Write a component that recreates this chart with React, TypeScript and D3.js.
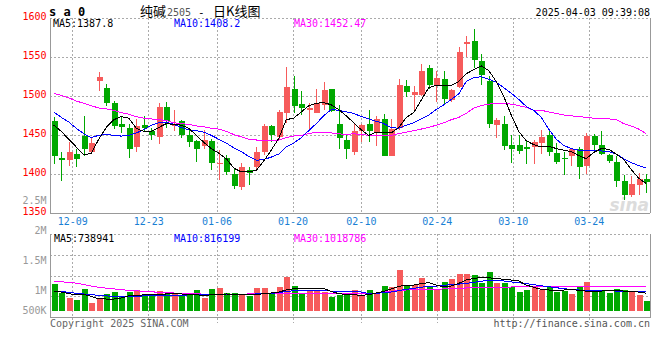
import React from 'react';
import * as d3 from 'd3';

// 交易日
const dates = [
  '12-04', '12-05', '12-06', '12-09', '12-10', '12-11', '12-12', '12-13', '12-16', '12-17',
  '12-18', '12-19', '12-20', '12-23', '12-24', '12-25', '12-26', '12-27', '12-30', '12-31',
  '01-02', '01-03', '01-06', '01-07', '01-08', '01-09', '01-10', '01-13', '01-14', '01-15',
  '01-16', '01-17', '01-20', '01-21', '01-22', '01-23', '01-24', '01-27', '02-05', '02-06',
  '02-07', '02-10', '02-11', '02-12', '02-13', '02-14', '02-17', '02-18', '02-19', '02-20',
  '02-21', '02-24', '02-25', '02-26', '02-27', '02-28', '03-03', '03-04', '03-05', '03-06',
  '03-07', '03-10', '03-11', '03-12', '03-13', '03-14', '03-17', '03-18', '03-19', '03-20',
  '03-21', '03-24', '03-25', '03-26', '03-27', '03-28', '03-31', '04-01', '04-02', '04-03',
];

const opens = [
  1468, 1421, 1418, 1426, 1449, 1429, 1520, 1511, 1491, 1465,
  1460, 1435, 1463, 1456, 1448, 1486, 1462, 1468, 1450, 1443,
  1436, 1443, 1413, 1421, 1400, 1384, 1406, 1409, 1428, 1462,
  1448, 1479, 1509, 1490, 1483, 1479, 1489, 1510, 1465, 1444,
  1428, 1455, 1465, 1453, 1471, 1424, 1459, 1513, 1502, 1502,
  1536, 1515, 1522, 1495, 1512, 1567, 1571, 1545, 1520, 1463,
  1465, 1438, 1438, 1435, 1435, 1440, 1450, 1427, 1421, 1423,
  1432, 1411, 1449, 1438, 1425, 1416, 1392, 1373, 1386, 1394,
];
const highs = [
  1473, 1429, 1442, 1432, 1475, 1447, 1531, 1516, 1494, 1474,
  1465, 1471, 1475, 1459, 1492, 1493, 1483, 1469, 1457, 1444,
  1457, 1445, 1431, 1425, 1408, 1414, 1410, 1435, 1465, 1463,
  1483, 1537, 1526, 1507, 1491, 1510, 1518, 1510, 1489, 1450,
  1465, 1464, 1482, 1475, 1477, 1471, 1522, 1521, 1513, 1542,
  1540, 1532, 1532, 1509, 1563, 1577, 1586, 1554, 1526, 1472,
  1475, 1451, 1450, 1443, 1444, 1457, 1458, 1440, 1429, 1433,
  1435, 1453, 1452, 1456, 1426, 1423, 1399, 1398, 1402, 1401,
];
const lows = [
  1413, 1392, 1411, 1409, 1423, 1427, 1507, 1487, 1458, 1453,
  1421, 1428, 1455, 1444, 1439, 1459, 1456, 1446, 1435, 1416,
  1432, 1406, 1393, 1399, 1381, 1380, 1386, 1406, 1425, 1442,
  1444, 1466, 1479, 1476, 1457, 1478, 1483, 1480, 1432, 1419,
  1425, 1441, 1442, 1436, 1424, 1424, 1457, 1499, 1482, 1501,
  1510, 1493, 1489, 1493, 1511, 1551, 1536, 1514, 1459, 1447,
  1431, 1414, 1426, 1413, 1413, 1426, 1423, 1413, 1399, 1411,
  1394, 1401, 1429, 1425, 1414, 1384, 1367, 1371, 1373, 1376,
];
const closes = [
  1423, 1418, 1429, 1419, 1433, 1440, 1525, 1492, 1462, 1461,
  1433, 1462, 1460, 1451, 1486, 1468, 1465, 1450, 1442, 1433,
  1444, 1415, 1415, 1403, 1385, 1409, 1402, 1428, 1462, 1450,
  1480, 1512, 1488, 1485, 1485, 1491, 1508, 1481, 1447, 1433,
  1455, 1463, 1455, 1471, 1424, 1458, 1515, 1505, 1505, 1532,
  1515, 1523, 1497, 1508, 1557, 1570, 1547, 1527, 1465, 1470,
  1436, 1432, 1430, 1432, 1442, 1448, 1429, 1416, 1419, 1432,
  1410, 1449, 1438, 1426, 1417, 1392, 1373, 1388, 1394, 1390,
];

// 均线
const ma5 = [
  1463, 1455, 1445, 1435, 1425, 1427, 1445, 1460, 1470, 1474,
  1472, 1459, 1455, 1455, 1460, 1465, 1464, 1463, 1459, 1450,
  1441, 1433, 1427, 1420, 1408, 1403, 1403, 1405, 1417, 1431,
  1446, 1470, 1472, 1480, 1488, 1491, 1492, 1489, 1483, 1475,
  1466, 1457, 1450, 1454, 1453, 1453, 1460, 1473, 1479, 1495,
  1511, 1514, 1514, 1514, 1519, 1529, 1534, 1539, 1533, 1519,
  1500, 1476, 1455, 1443, 1438, 1435, 1436, 1433, 1431, 1429,
  1424, 1420, 1428, 1433, 1432, 1426, 1419, 1406, 1395, 1388,
];
const ma10 = [
  1480, 1473, 1467, 1459, 1452, 1447, 1450, 1451, 1450, 1449,
  1450, 1453, 1457, 1463, 1466, 1467, 1464, 1460, 1457, 1456,
  1454, 1450, 1445, 1440, 1434, 1429, 1423, 1418, 1419, 1422,
  1426, 1435, 1440, 1447, 1456, 1465, 1475, 1483, 1482, 1480,
  1478, 1474, 1471, 1468, 1465, 1460, 1459, 1463, 1466, 1471,
  1476, 1483, 1489, 1496, 1503, 1519, 1524, 1525, 1522, 1518,
  1511, 1504, 1496, 1487, 1482, 1473, 1458, 1445, 1437, 1433,
  1431, 1430, 1430, 1430, 1429, 1426, 1420, 1415, 1411, 1408,
];
const ma30 = [
  1504, 1501, 1498, 1494, 1491, 1488, 1485, 1484, 1482, 1479,
  1477, 1474, 1472, 1471, 1470, 1469, 1466, 1465, 1464, 1462,
  1461, 1459, 1458, 1455, 1451, 1448, 1445, 1444, 1443, 1443,
  1444, 1447, 1449, 1450, 1452, 1454, 1454, 1453, 1452, 1451,
  1452, 1451, 1450, 1450, 1450, 1450, 1452, 1454, 1456, 1458,
  1460, 1463, 1466, 1470, 1473, 1478, 1485, 1488, 1490, 1491,
  1491, 1490, 1488, 1486, 1482, 1482, 1480, 1478, 1476, 1475,
  1474, 1473, 1472, 1471, 1471, 1470, 1465, 1462, 1458, 1452,
];

// 成交量
const volumes = [
  1125000, 760000, 550000, 460000, 920000, 330000, 490000, 710000, 790000, 630000,
  800000, 875000, 710000, 670000, 830000, 710000, 740000, 670000, 740000, 875000,
  550000, 920000, 960000, 740000, 740000, 710000, 640000, 960000, 960000, 710000,
  1000000, 1400000, 1040000, 740000, 875000, 875000, 800000, 600000, 670000, 710000,
  875000, 670000, 875000, 740000, 1040000, 1000000, 1710000, 1080000, 1080000, 1375000,
  1040000, 900000, 1210000, 1330000, 1540000, 1540000, 1500000, 1180000, 1640000, 1150000,
  1150000, 990000, 790000, 875000, 990000, 875000, 990000, 790000, 830000, 710000,
  990000, 1210000, 790000, 830000, 750000, 900000, 875000, 790000, 670000, 420000,
];
const volMa5 = [
  830000, 790000, 720000, 680000, 690000, 610000, 510000, 500000, 500000, 540000,
  630000, 650000, 670000, 680000, 690000, 710000, 710000, 710000, 690000, 680000,
  640000, 680000, 690000, 710000, 690000, 680000, 670000, 690000, 720000, 750000,
  790000, 875000, 930000, 940000, 940000, 940000, 930000, 820000, 720000, 690000,
  680000, 650000, 680000, 750000, 810000, 920000, 1030000, 1070000, 1080000, 1140000,
  1180000, 1080000, 1000000, 1040000, 1150000, 1290000, 1360000, 1390000, 1380000, 1360000,
  1320000, 1290000, 1250000, 1080000, 990000, 900000, 875000, 875000, 875000, 900000,
  860000, 830000, 810000, 830000, 850000, 850000, 830000, 820000, 790000, 738941,
];
const volMa10 = [
  830000, 810000, 780000, 740000, 710000, 680000, 650000, 630000, 610000, 600000,
  600000, 610000, 630000, 630000, 640000, 640000, 650000, 650000, 670000, 670000,
  670000, 680000, 690000, 690000, 690000, 690000, 690000, 710000, 720000, 740000,
  760000, 810000, 850000, 860000, 860000, 860000, 850000, 830000, 830000, 820000,
  820000, 790000, 720000, 740000, 760000, 790000, 850000, 900000, 940000, 990000,
  1030000, 1040000, 1070000, 1100000, 1120000, 1150000, 1190000, 1240000, 1280000, 1280000,
  1250000, 1210000, 1180000, 1140000, 1100000, 1050000, 1010000, 970000, 930000, 900000,
  875000, 860000, 850000, 850000, 850000, 830000, 820000, 810000, 800000, 816199,
];
const volMa30 = [
  1240000, 1220000, 1190000, 1160000, 1100000, 1040000, 990000, 950000, 920000, 890000,
  860000, 840000, 820000, 800000, 780000, 760000, 750000, 740000, 730000, 720000,
  700000, 700000, 700000, 700000, 700000, 700000, 710000, 710000, 710000, 720000,
  720000, 720000, 730000, 730000, 730000, 730000, 740000, 740000, 740000, 740000,
  720000, 720000, 740000, 750000, 790000, 820000, 850000, 875000, 890000, 900000,
  900000, 900000, 920000, 930000, 940000, 960000, 970000, 990000, 990000, 1000000,
  1000000, 1000000, 1010000, 1010000, 1010000, 1030000, 1030000, 1030000, 1040000, 1040000,
  1040000, 1040000, 1040000, 1040000, 1040000, 1030000, 1030000, 1025000, 1020000, 1018786,
];

const dateTicks = ['12-09', '12-23', '01-06', '01-20', '02-10', '02-24', '03-10', '03-24'];
const priceTicks = [1350, 1400, 1450, 1500, 1550, 1600];
const volTickLabels = ['2M', '1.5M', '1M', '500K'];
const volTickY = [234, 264, 294, 313.5];

const W = 660;
const H = 360;
const L = 50;
const R = 650;
const pTop = 18.3;
const pBottom = 213.3;
const vTop = 234.3;
const vBottom = 317.7;

const UP = '#f65b5b';
const DOWN = '#00a800';
const GRID = '#aaaaaa';
const AXIS = '#999999';
const MONO = '"DejaVu Sans Mono", monospace';

export default function App() {
  const x = d3.scaleBand<string>().domain(dates).range([L, R]);
  const xg = d3.scalePoint<string>().domain(dates).range([L, R]); // 网格线位置
  const y = d3.scaleLinear().domain([1350, 1600]).range([pBottom, pTop]);
  const yv = d3.scaleLinear().domain([0, 3.2e6]).range([311, 234.2]);

  const cx = (i: number) => (x(dates[i]) as number) + x.bandwidth() / 2;
  const path = (vals: number[], sc: (v: number) => number) =>
    d3.line<number>().x((_, i) => cx(i)).y(d => sc(d))(vals) || '';

  const vRows = d3.range(1, 4).map(k => vTop + (k * (vBottom - vTop)) / 4);

  return (
    <div style={{ position: 'fixed', left: 0, top: 0 }}>
      <svg width={W} height={H} style={{ display: 'block', background: '#fff' }} fontFamily={MONO}>
        {/* 标题 */}
        <text x={49} y={16} fontSize={12} fontWeight="bold" fill="#000">s a 0</text>
        <text x={140} y={16} fontSize={13} fontFamily='"Noto Sans CJK SC", sans-serif' fill="#000">纯碱</text>
        <text x={167} y={15.5} fontSize={10} fill="#555">2505</text>
        <text x={198} y={15.5} fontSize={11} fill="#000">-</text>
        <text x={213} y={16} fontSize={13} fontFamily='"Noto Sans CJK SC", sans-serif' fill="#000">日K线图</text>
        <text x={650} y={15.5} fontSize={10} textAnchor="end" fill="#000">2025-04-03 09:39:08</text>

        {/* sina 水印 */}
        <text x={649} y={211} fontSize={17} fontStyle="italic" fontWeight="bold" fontFamily="'DejaVu Sans', sans-serif" textAnchor="end" fill="#dcdcdc">sina</text>

        <g shapeRendering="crispEdges">
          {/* 价格网格 */}
          {priceTicks.filter(p => p > 1350).map(p => (
            <line key={p} x1={L} x2={R} y1={y(p)} y2={y(p)} stroke={GRID} strokeDasharray="2,2" />
          ))}
          {dateTicks.map(d => (
            <line key={d} x1={xg(d)} x2={xg(d)} y1={pTop} y2={pBottom} stroke={GRID} strokeDasharray="2,2" />
          ))}
          {/* 成交量网格 */}
          <line x1={L} x2={R} y1={vTop} y2={vTop} stroke={GRID} strokeDasharray="2,2" />
          {vRows.map(v => (
            <line key={v} x1={L} x2={R} y1={v} y2={v} stroke={GRID} strokeDasharray="2,2" />
          ))}
          {dateTicks.map(d => (
            <line key={'v' + d} x1={xg(d)} x2={xg(d)} y1={vTop} y2={vBottom + 5} stroke={GRID} strokeDasharray="2,2" />
          ))}

          {/* K线 */}
          {dates.map((d, i) => {
            const up = closes[i] >= opens[i];
            const c = up ? UP : DOWN;
            const xc = Math.round(cx(i));
            const top = y(Math.max(opens[i], closes[i]));
            const bot = y(Math.min(opens[i], closes[i]));
            return (
              <g key={d}>
                <line x1={xc + 0.5} x2={xc + 0.5} y1={y(highs[i])} y2={y(lows[i])} stroke={c} />
                <rect x={xc - 2} y={top} width={6} height={Math.max(1.5, bot - top)} fill={c} />
              </g>
            );
          })}

          {/* 成交量柱 */}
          {dates.map((d, i) => {
            const up = closes[i] >= opens[i];
            const xc = Math.round(cx(i));
            return (
              <rect key={'vol' + d} x={xc - 2} y={yv(volumes[i])} width={6} height={yv(0) - yv(volumes[i])}
                fill={up ? UP : DOWN} />
            );
          })}

          {/* 均线 */}
          <path d={path(ma30, y)} fill="none" stroke="#ff00ff" strokeWidth={1} />
          <path d={path(ma10, y)} fill="none" stroke="#0000ff" strokeWidth={1} />
          <path d={path(ma5, y)} fill="none" stroke="#000" strokeWidth={1} />
          <path d={path(volMa30, yv)} fill="none" stroke="#ff00ff" strokeWidth={1} />
          <path d={path(volMa10, yv)} fill="none" stroke="#0000ff" strokeWidth={1} />
          <path d={path(volMa5, yv)} fill="none" stroke="#000" strokeWidth={1} />

          {/* 边框 */}
          <line x1={L} x2={L} y1={pTop} y2={pBottom} stroke={AXIS} />
          <line x1={R} x2={R} y1={pTop} y2={pBottom} stroke={AXIS} />
          <line x1={L} x2={R} y1={pBottom} y2={pBottom} stroke={AXIS} />
          <line x1={L} x2={L} y1={vTop} y2={vBottom} stroke={AXIS} />
          <line x1={R} x2={R} y1={vTop} y2={vBottom} stroke={AXIS} />
          <line x1={L} x2={R} y1={vBottom} y2={vBottom} stroke={AXIS} />
        </g>

        {/* 图例 */}
        <text x={53} y={27} fontSize={10} fill="#000">MA5:1387.8</text>
        <text x={174} y={27} fontSize={10} fill="#0000ff">MA10:1408.2</text>
        <text x={294} y={27} fontSize={10} fill="#ff00ff">MA30:1452.47</text>
        <text x={54} y={242} fontSize={10} fill="#000">MA5:738941</text>
        <text x={174} y={242} fontSize={10} fill="#0000ff">MA10:816199</text>
        <text x={294} y={242} fontSize={10} fill="#ff00ff">MA30:1018786</text>

        {/* 价格刻度 */}
        {priceTicks.map(p => (
          <text key={'t' + p} x={46.5} y={y(p) + 1.5} fontSize={10} textAnchor="end" fill="#ff0000">{p}</text>
        ))}
        <text x={46.5} y={203.5} fontSize={10} textAnchor="end" fill="#999">2.5M</text>

        {/* 日期刻度 */}
        {dateTicks.map(d => (
          <text key={'l' + d} x={xg(d)} y={225} fontSize={10} textAnchor="middle" fill="#1a7fd4">{d}</text>
        ))}

        {/* 成交量刻度 */}
        {volTickLabels.map((t, k) => (
          <text key={t} x={46.5} y={volTickY[k]} fontSize={10} textAnchor="end" fill="#999">{t}</text>
        ))}

        <text x={50} y={327} fontSize={10} fill="#666">Copyright 2025 SINA.COM</text>
        <text x={650} y={327} fontSize={10} textAnchor="end" fill="#555">http://finance.sina.com.cn</text>
      </svg>
    </div>
  );
}
